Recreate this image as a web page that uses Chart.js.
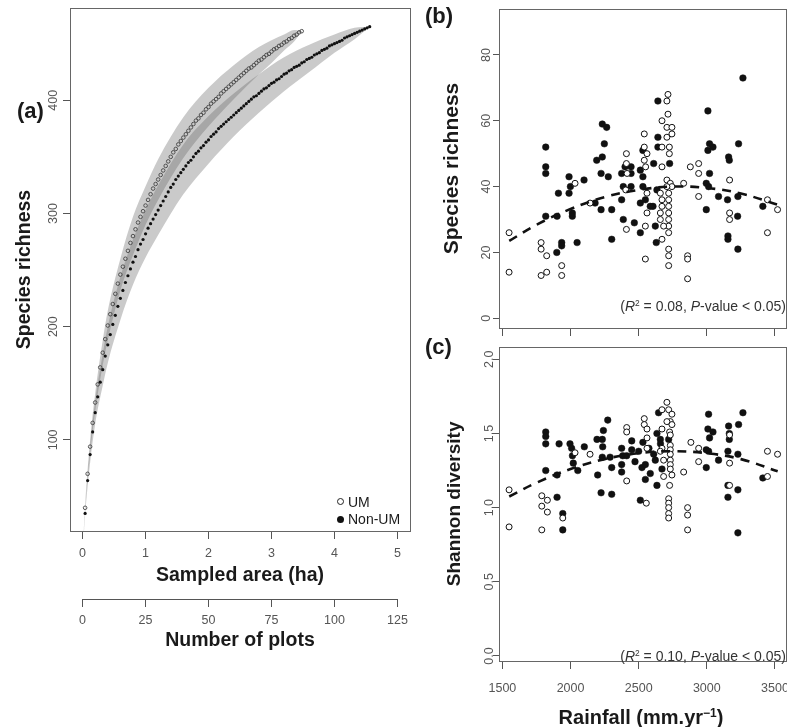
<!DOCTYPE html>
<html>
<head>
<meta charset="utf-8">
<script src="https://cdn.jsdelivr.net/npm/chart.js@4.4.1/dist/chart.umd.min.js"></script>
<style>
  html, body { margin:0; padding:0; background:#fff; }
  body { position:relative; width:787px; height:727px; overflow:hidden; font-family:"Liberation Sans", Arial, Helvetica, sans-serif; color:#1a1a1a; }
  canvas { position:absolute; }
  .t { position:absolute; white-space:nowrap; line-height:1; }
  .panel { font-weight:bold; font-size:22px; }
  .note { font-size:14px; color:#333; }
  .note sup, .ttl sup { font-size:60%; vertical-align:baseline; position:relative; top:-0.6em; }
  .mk { position:absolute; width:7px; height:7px; border-radius:50%; box-sizing:border-box; }
</style>
</head>
<body>
<canvas id="ca" width="420" height="727" style="left:0;top:0"></canvas>
<canvas id="cb" width="367" height="340" style="left:420px;top:0"></canvas>
<canvas id="cc" width="367" height="387" style="left:420px;top:340px"></canvas>
<div class="t panel" style="left:17px;top:100px">(a)</div>
<div class="t panel" style="left:425px;top:5px">(b)</div>
<div class="t panel" style="left:425px;top:336px">(c)</div>
<div class="mk" style="left:337px;top:498px;border:1px solid #222"></div>
<div class="t" style="left:348px;top:495px;font-size:14px">UM</div>
<div class="mk" style="left:337px;top:515.5px;background:#111"></div>
<div class="t" style="left:348px;top:512px;font-size:14px">Non-UM</div>
<div class="t note" style="right:1px;top:299px">(<i>R</i><sup>2</sup> = 0.08, <i>P</i>-value &lt; 0.05)</div>
<div class="t note" style="right:1px;top:649px">(<i>R</i><sup>2</sup> = 0.10, <i>P</i>-value &lt; 0.05)</div>
<div class="t ttl" style="left:641px;top:707px;transform:translateX(-50%);font-weight:bold;font-size:20px">Rainfall (mm.yr<sup>−1</sup>)</div>
<script>
// ---------- Panel (a): rarefaction curves ----------
const areaPerPlot = 0.04;
const areaTicks = [0, 1, 2, 3, 4, 5];
const plotTicks = [0, 25, 50, 75, 100, 125];
const richTicksA = [100, 200, 300, 400];
const umRichness = [
  40,70,94,115,133,149,164,177,189,201,
  211,220,229,238,246,253,260,267,274,280,
  286,292,297,302,307,312,317,322,326,330,
  334,338,342,346,350,354,357,361,364,367,
  370,373,376,379,382,384,387,389,392,394,
  397,399,401,403,406,408,410,412,414,416,
  418,420,422,424,426,428,429,431,433,435,
  436,438,440,441,443,445,446,448,449,451,
  452,454,455,457,458,460,461];
const nonUmRichness = [
  35,64,87,107,124,138,151,162,174,184,
  193,202,210,218,225,232,239,245,251,257,
  262,268,273,277,282,287,291,295,299,303,
  307,311,315,319,323,326,330,333,336,339,
  342,345,347,350,353,355,358,360,363,365,
  368,370,372,375,377,379,381,383,385,387,
  389,391,393,395,397,399,401,403,404,406,
  408,410,411,413,415,416,418,419,421,423,
  424,426,427,429,430,431,433,434,436,437,
  438,440,441,442,444,445,446,448,449,450,
  451,452,453,455,456,457,458,459,460,461,
  462,463,464,465];
const umBandPlots = [0,1,3,5,8,10,15,20,25,30,40,50,60,70,75,80,84,87];
const umBandLow   = [0,38,88,125,166,188,232,263,290,312,349,377,401,423,433,444,452,461];
const umBandHigh  = [0,42,100,141,188,214,260,297,324,348,385,411,431,447,453,458,462,461];
const nonBandPlots = [0,1,3,5,8,10,15,20,25,30,40,50,60,70,80,90,100,108,114];
const nonBandLow   = [0,33,80,114,148,168,206,237,261,281,317,344,368,389,408,425,442,454,465];
const nonBandHigh  = [0,37,94,134,176,200,244,277,303,325,361,386,406,423,438,449,458,464,465];

// ---------- Panel (b): species richness vs rainfall ----------
const rainTicks = [1500, 2000, 2500, 3000, 3500];
const richTicksB = [0, 20, 40, 60, 80];
const umRainB = [1549,1549,1784,1784,1825,1784,1825,1935,1935,2033,2143,2410,2410,2415,2405,2410,
  2715,2707,2715,2671,2707,2744,2744,2707,2541,2671,2725,2541,2725,2561,2541,2671,2551,2707,2732,2744,
  2707,2830,2879,2940,2940,2940,3167,2561,2659,2720,2671,2720,2720,2671,2561,2659,2720,2720,2659,2720,
  2683,2720,2549,2671,2720,2720,2720,2549,2859,2859,2859,3167,3167,3445,3519,3445];
const umRichB = [26,14,23,21,19,13,14,16,13,41,35,50,47,44,39,27,
  68,66,62,60,58,58,56,55,56,52,52,52,50,50,48,46,46,42,41,40,
  40,41,46,47,44,37,42,38,38,38,36,36,34,34,32,32,32,30,30,28,
  28,26,28,24,21,19,16,18,19,18,12,32,30,36,33,26];
const nonRainB = [1818,1818,1818,1818,1911,1901,1989,1999,1989,2013,
  2013,1899,1935,1935,2048,2099,2192,2233,2233,2265,
  2248,2224,2277,2180,2224,2302,2302,2375,2400,2444,
  2444,2387,2444,2375,2387,2468,
  3265,3008,2641,2641,2641,3020,3045,3008,3233,3160,
  3165,3020,2996,3013,3086,3152,3228,3411,2996,3226,
  3155,3155,3228,2610,2531,2531,2512,2531,2634,2605,
  2512,2549,2585,2622,2512,2629,2727];
const nonRichB = [52,46,44,31,38,31,43,40,38,32,
  31,20,23,22,23,42,48,49,59,58,
  53,44,43,35,33,33,24,44,46,46,
  44,40,40,36,30,29,
  73,63,66,55,52,53,52,51,53,49,
  48,44,41,40,37,36,37,34,33,31,
  25,24,21,47,51,43,45,40,39,34,
  35,36,34,28,26,23,47];
const fitRain = [1550,1750,2000,2250,2500,2750,3000,3250,3520];
const fitRichB = [23.5,28.4,33.2,36.8,39.0,40.0,39.6,37.9,34.5];

// ---------- Panel (c): Shannon diversity vs rainfall ----------
const shanTicks = [0, 0.5, 1, 1.5, 2];
const umRainC = [1549,1549,1789,1789,1830,1830,1789,1943,2033,2143,2412,2412,2412,
  2707,2671,2720,2744,2732,2744,2707,2541,2541,2561,
  2727,2671,2732,2732,2561,2561,2671,2732,2659,2732,
  2732,2683,2732,2732,2683,2744,2727,2720,2720,2720,
  2720,2720,2556,2830,2883,2940,2940,2859,2859,2859,
  3167,3167,3167,3445,3519,3445];
const umShanC = [1.12,0.87,1.08,1.01,1.05,0.97,0.85,0.93,1.37,1.36,1.54,1.51,1.18,
  1.71,1.66,1.66,1.63,1.58,1.56,1.58,1.60,1.56,1.53,
  1.51,1.53,1.49,1.42,1.47,1.40,1.40,1.39,1.38,1.36,
  1.32,1.32,1.29,1.26,1.21,1.22,1.15,1.06,1.03,1.00,
  0.96,0.93,1.03,1.24,1.44,1.40,1.31,1.00,0.95,0.85,
  1.49,1.30,1.15,1.38,1.36,1.21];
const nonRainC = [1818,1818,1818,1818,1916,1901,1901,1943,1943,1996,
  2008,2014,2020,2053,2101,2194,2233,2241,2273,2236,
  2233,2290,2199,2302,2224,2302,2375,2383,2375,2375,
  2412,2449,2449,2473,
  3265,3013,3008,3045,3020,3160,3233,3165,3165,3155,
  2996,3013,3086,3228,2996,3411,3155,3228,3155,3228,
  2646,2531,2524,2512,2634,2585,2549,2634,2659,2720,
  2610,2549,2622,2671,2500,2575,2660];
const nonShanC = [1.51,1.48,1.43,1.25,1.43,1.22,1.07,0.96,0.85,1.43,
  1.40,1.35,1.30,1.25,1.41,1.46,1.46,1.52,1.59,1.41,
  1.34,1.34,1.22,1.27,1.10,1.09,1.40,1.35,1.29,1.24,
  1.35,1.45,1.39,1.31,
  1.64,1.63,1.53,1.51,1.47,1.55,1.56,1.50,1.46,1.38,
  1.39,1.38,1.32,1.36,1.27,1.20,1.15,1.12,1.07,0.83,
  1.64,1.44,1.27,1.05,1.15,1.23,1.19,1.50,1.46,1.46,
  1.36,1.29,1.32,1.26,1.38,1.40,1.43];
const fitShanC = [1.075,1.168,1.26,1.327,1.367,1.38,1.367,1.327,1.245];

// ---------- helpers ----------
const FONT = '"Liberation Sans", Arial, Helvetica, sans-serif';
Chart.defaults.font.family = FONT;
Chart.defaults.color = '#555';
const AX = '#555';
const TITLE = '#1a1a1a';
const tickFont = {size: 12.5};
const zip = (xs, ys) => xs.map((x, i) => ({x: x, y: ys[i]}));
const fixedTicks = arr => s => { s.ticks = arr.map(v => ({value: v})); };
const noPad = s => { s.paddingLeft = 0; s.paddingRight = 0; s.paddingTop = 0; s.paddingBottom = 0; };
const fitH = h => s => { s.height = h; noPad(s); };
const fitW = w => s => { s.width = w; noPad(s); };

const deco = {
  id: 'deco',
  afterDraw(chart, args, o) {
    const ctx = chart.ctx, a = chart.chartArea;
    ctx.save();
    ctx.strokeStyle = '#666';
    ctx.lineWidth = 1;
    const l = Math.round(a.left), t = Math.round(a.top), r = Math.round(a.right), b = Math.round(a.bottom);
    ctx.strokeRect(l + 0.5, t + 0.5, r - l, b - t);
    const s = chart.scales.y;
    ctx.fillStyle = AX;
    ctx.font = '12.5px ' + FONT;
    ctx.textAlign = 'center';
    ctx.textBaseline = 'middle';
    for (const tk of s.ticks) {
      const y = s.getPixelForValue(tk.value);
      ctx.save();
      ctx.translate(o.yLabelX, y);
      ctx.rotate(-Math.PI / 2);
      ctx.fillText(tk.label, 0, 0);
      ctx.restore();
    }
    if (chart.scales.x2) {
      const s2 = chart.scales.x2;
      const yy = Math.round(s2.top) + 0.5;
      ctx.strokeStyle = AX;
      ctx.beginPath();
      ctx.moveTo(s2.getPixelForValue(plotTicks[0]), yy);
      ctx.lineTo(s2.getPixelForValue(plotTicks[plotTicks.length - 1]), yy);
      ctx.stroke();
    }
    ctx.restore();
  }
};
Chart.register(deco);

const base = {responsive: false, animation: false, events: []};
const hiddenTicks = {color: 'rgba(0,0,0,0)', font: tickFont, autoSkip: false, maxRotation: 0};

// ---------- Chart (a) ----------
const umPts = umRichness.map((v, i) => ({x: (i + 1) * areaPerPlot, y: v}));
const nonPts = nonUmRichness.map((v, i) => ({x: (i + 1) * areaPerPlot, y: v}));
const band = (ns, vs) => ns.map((n, i) => ({x: n * areaPerPlot, y: vs[i]}));
const bandStyle = {type: 'line', borderWidth: 0, borderColor: 'rgba(0,0,0,0)', pointRadius: 0, cubicInterpolationMode: 'monotone'};
const bandFill = 'rgba(100,100,100,0.34)';

new Chart(document.getElementById('ca'), {
  type: 'scatter',
  data: {datasets: [
    {label: 'UM', data: umPts, pointRadius: 1.8, backgroundColor: 'rgba(0,0,0,0)', borderColor: '#444', borderWidth: 0.9},
    {label: 'Non-UM', data: nonPts, pointRadius: 1.6, backgroundColor: '#111', borderColor: '#111', borderWidth: 0},
    Object.assign({data: band(umBandPlots, umBandLow), fill: false}, bandStyle),
    Object.assign({data: band(umBandPlots, umBandHigh), fill: '-1', backgroundColor: bandFill}, bandStyle),
    Object.assign({data: band(nonBandPlots, nonBandLow), fill: false}, bandStyle),
    Object.assign({data: band(nonBandPlots, nonBandHigh), fill: '-1', backgroundColor: bandFill}, bandStyle)
  ]},
  options: Object.assign({}, base, {
    layout: {autoPadding: false, padding: {left: 0, right: 10, top: 8, bottom: 68}},
    plugins: {legend: {display: false}, tooltip: {enabled: false}, deco: {yLabelX: 53.5}},
    scales: {
      x: {type: 'linear', position: 'bottom', weight: 0, min: -0.2, max: 5.2,
        afterBuildTicks: fixedTicks(areaTicks), afterFit: fitH(68),
        grid: {drawOnChartArea: false, tickLength: 8, color: AX}, border: {display: false},
        ticks: {padding: 7, color: AX, font: tickFont, maxRotation: 0, autoSkip: false, callback: v => String(v)},
        title: {display: true, text: 'Sampled area (ha)', color: TITLE, font: {size: 19.5, weight: 'bold'}, padding: {top: 0, bottom: 11.3}}},
      x2: {type: 'linear', position: 'bottom', weight: 1, min: -0.2 / areaPerPlot, max: 5.2 / areaPerPlot,
        afterBuildTicks: fixedTicks(plotTicks), afterFit: fitH(60),
        grid: {drawOnChartArea: false, tickLength: 8, color: AX}, border: {display: false},
        ticks: {padding: 6, color: AX, font: tickFont, maxRotation: 0, autoSkip: false, callback: v => String(v)},
        title: {display: true, text: 'Number of plots', color: TITLE, font: {size: 19.5, weight: 'bold'}, padding: {top: 0, bottom: 6.3}}},
      y: {type: 'linear', position: 'left', min: 19.5, max: 481.5,
        afterBuildTicks: fixedTicks(richTicksA), afterFit: fitW(70),
        grid: {drawOnChartArea: false, tickLength: 7, color: AX}, border: {display: false},
        ticks: Object.assign({callback: v => String(v)}, hiddenTicks),
        title: {display: true, text: 'Species richness', color: TITLE, font: {size: 19.5, weight: 'bold'}, padding: {top: 13.3, bottom: 0}}}
    }
  })
});

// ---------- Charts (b) and (c) ----------
function scatterPanel(id, o) {
  return new Chart(document.getElementById(id), {
    type: 'scatter',
    data: {datasets: [
      {type: 'line', data: zip(fitRain, o.fit), borderColor: '#111', borderWidth: 2.6, borderDash: [9, 7], pointRadius: 0, fill: false, tension: 0.4},
      {label: 'UM', data: zip(o.umX, o.umY), pointRadius: 3, backgroundColor: '#fff', borderColor: '#111', borderWidth: 1},
      {label: 'Non-UM', data: zip(o.nonX, o.nonY), pointRadius: 3.3, backgroundColor: '#111', borderColor: '#111', borderWidth: 0.5}
    ]},
    options: Object.assign({}, base, {
      layout: {autoPadding: false, padding: {left: 0, right: 1, top: o.top, bottom: 0}},
      plugins: {legend: {display: false}, tooltip: {enabled: false}, deco: {yLabelX: o.yLabelX}},
      scales: {
        x: {type: 'linear', position: 'bottom', min: 1475, max: 3581,
          afterBuildTicks: fixedTicks(rainTicks), afterFit: fitH(o.xH),
          grid: {drawOnChartArea: false, tickLength: 8, color: AX}, border: {display: false},
          ticks: o.xLabels ? {padding: 12, color: AX, font: tickFont, maxRotation: 0, autoSkip: false, callback: v => String(v)}
                           : Object.assign({callback: v => String(v)}, hiddenTicks)},
        y: {type: 'linear', position: 'left', min: o.yMin, max: o.yMax,
          afterBuildTicks: fixedTicks(o.yTicks), afterFit: fitW(79),
          grid: {drawOnChartArea: false, tickLength: 6, color: AX}, border: {display: false},
          ticks: Object.assign({callback: o.fmt}, hiddenTicks),
          title: {display: true, text: o.yTitle, color: TITLE, font: {size: o.titleSize, weight: 'bold'}, padding: {top: o.titlePad, bottom: 0}}}
      }
    })
  });
}

scatterPanel('cb', {fit: fitRichB, umX: umRainB, umY: umRichB, nonX: nonRainB, nonY: nonRichB,
  top: 9, xH: 12, xLabels: false, yMin: -2.95, yMax: 93.95, yTicks: richTicksB, fmt: v => String(v),
  yTitle: 'Species richness', titleSize: 21, titlePad: 19.4, yLabelX: 67});

scatterPanel('cc', {fit: fitShanC, umX: umRainC, umY: umShanC, nonX: nonRainC, nonY: nonShanC,
  top: 6.7, xH: 66, xLabels: true, yMin: -0.034, yMax: 2.085, yTicks: shanTicks, fmt: v => Number(v).toFixed(1),
  yTitle: 'Shannon diversity', titleSize: 19, titlePad: 23.6, yLabelX: 70});
</script>
</body>
</html>
